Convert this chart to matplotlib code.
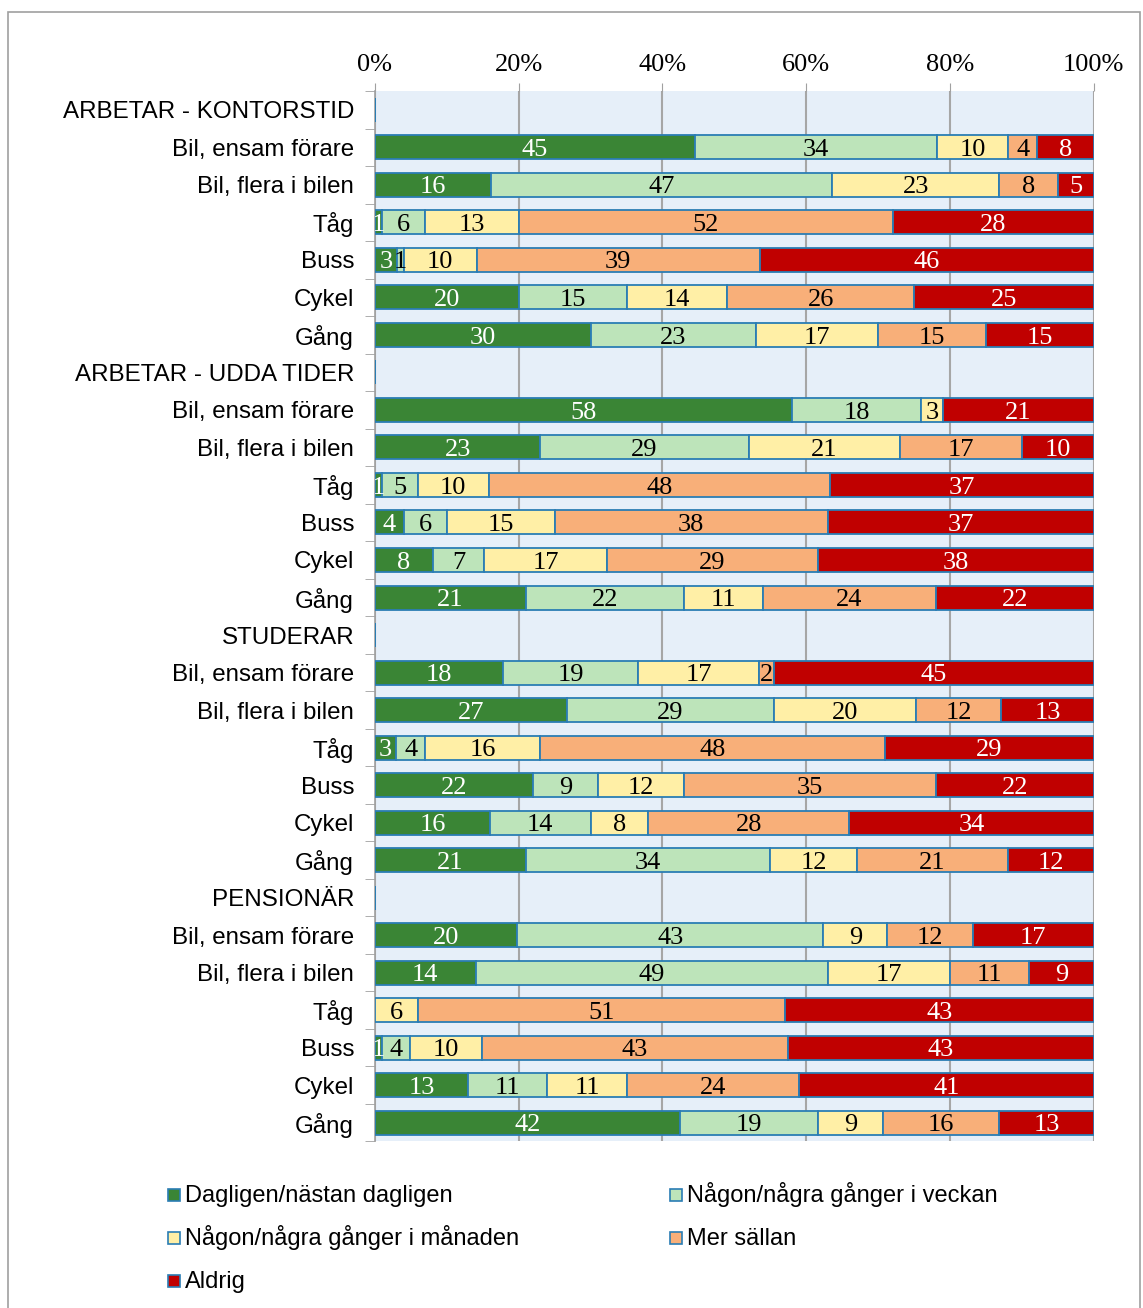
import numpy as np
import matplotlib
matplotlib.use("Agg")
import matplotlib.pyplot as plt
from matplotlib.patches import Rectangle

# rows from top to bottom; header rows have no values
row_labels = [
    "ARBETAR - KONTORSTID", "Bil, ensam förare", "Bil, flera i bilen", "Tåg", "Buss", "Cykel", "Gång",
    "ARBETAR - UDDA TIDER", "Bil, ensam förare", "Bil, flera i bilen", "Tåg", "Buss", "Cykel", "Gång",
    "STUDERAR", "Bil, ensam förare", "Bil, flera i bilen", "Tåg", "Buss", "Cykel", "Gång",
    "PENSIONÄR", "Bil, ensam förare", "Bil, flera i bilen", "Tåg", "Buss", "Cykel", "Gång",
]
series_names = [
    "Dagligen/nästan dagligen",
    "Någon/några gånger i veckan",
    "Någon/några gånger i månaden",
    "Mer sällan",
    "Aldrig",
]
colors = ["#3A8535", "#BDE4BA", "#FFEFA6", "#F8AF79", "#C00000"]
text_colors = ["white", "black", "black", "black", "white"]

dagligen = [0, 45, 16, 1, 3, 20, 30,
            0, 58, 23, 1, 4, 8, 21,
            0, 18, 27, 3, 22, 16, 21,
            0, 20, 14, 0, 1, 13, 42]
veckan = [0, 34, 47, 6, 1, 15, 23,
          0, 18, 29, 5, 6, 7, 22,
          0, 19, 29, 4, 9, 14, 34,
          0, 43, 49, 0, 4, 11, 19]
manaden = [0, 10, 23, 13, 10, 14, 17,
           0, 3, 21, 10, 15, 17, 11,
           0, 17, 20, 16, 12, 8, 12,
           0, 9, 17, 6, 10, 11, 9]
mer_sallan = [0, 4, 8, 52, 39, 26, 15,
              0, 0, 17, 48, 38, 29, 24,
              0, 2, 12, 48, 35, 28, 21,
              0, 12, 11, 51, 43, 24, 16]
aldrig = [0, 8, 5, 28, 46, 25, 15,
          0, 21, 10, 37, 37, 38, 22,
          0, 45, 13, 29, 22, 34, 12,
          0, 17, 9, 43, 43, 41, 13]

serif = ["Liberation Serif", "DejaVu Serif"]
sans = ["Liberation Sans", "DejaVu Sans"]

data = np.array([dagligen, veckan, manaden, mer_sallan, aldrig], dtype=float)
totals = data.sum(axis=0)
totals[totals == 0] = 1
shares = data / totals * 100  # 100% stacked

fig = plt.figure(figsize=(11.43, 13.08), dpi=100)
ax = fig.add_axes([0.328, 0.1273, 0.629, 0.8031])
ax.set_facecolor("#E6EFF9")

y = np.arange(len(row_labels))
left = np.zeros(len(row_labels))
for i, name in enumerate(series_names):
    ax.barh(y, shares[i], left=left, height=0.64, color=colors[i],
            edgecolor="#2A7DB4", linewidth=1.3, zorder=3)
    for j in range(len(row_labels)):
        if data[i, j] > 0:
            ax.text(left[j] + shares[i, j] / 2, y[j] + 0.07, f"{int(data[i, j])}",
                    ha="center", va="center", color=text_colors[i],
                    fontsize=19, family=serif, zorder=4, clip_on=True)
    left += shares[i]

ax.set_xlim(0, 100)
ax.set_ylim(len(row_labels) - 0.5, -0.5)
ax.xaxis.tick_top()
ax.set_xticks(np.arange(0, 101, 20))
ax.set_xticklabels([f"{v}%" for v in range(0, 101, 20)], family=serif, fontsize=19)
ax.tick_params(axis="x", length=6, color="#A0A0A0", pad=5)
ax.grid(axis="x", color="#A6A6A6", linewidth=1.5, zorder=1)

ax.set_yticks(y)
ax.set_yticklabels(row_labels, family=sans, fontsize=17.4)
ax.set_yticks(np.arange(-0.5, len(row_labels), 1), minor=True)
ax.tick_params(axis="y", which="major", length=0, pad=15)
ax.tick_params(axis="y", which="minor", length=7, color="#A0A0A0")

for side in ["top", "right", "bottom"]:
    ax.spines[side].set_visible(False)
ax.spines["left"].set_color("#A0A0A0")
ax.spines["left"].set_linewidth(1.2)

# legend, two columns filled row by row
W, H = 1143, 1308
leg_x = [168, 670]
leg_y = [1195, 1238, 1281]
for k, name in enumerate(series_names):
    px = leg_x[k % 2]
    py = leg_y[k // 2]
    fig.patches.append(Rectangle((px / W, 1 - (py + 6) / H), 12 / W, 12 / H,
                                 transform=fig.transFigure, facecolor=colors[k],
                                 edgecolor="#2A7DB4", linewidth=1.2))
    fig.text((px + 17) / W, 1 - (py + 7) / H, name, ha="left", va="baseline",
             family=sans, fontsize=17)

fig.patches.append(Rectangle((8 / W, -0.01), (1140 - 8) / W, 1 - 12 / H + 0.01,
                             transform=fig.transFigure, fill=False,
                             edgecolor="#A0A0A0", linewidth=1.2))

fig.savefig("out.png", dpi=100)
